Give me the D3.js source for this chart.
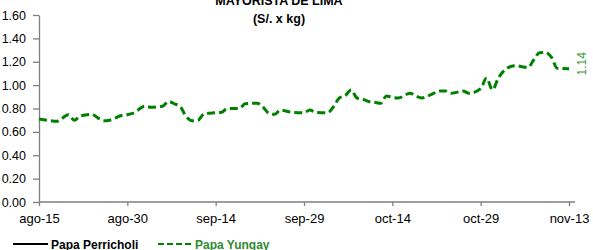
<!DOCTYPE html>
<html>
<head>
<meta charset="utf-8">
<script src="https://cdn.jsdelivr.net/npm/d3@7"></script>
<style>
  body { margin: 0; background: #fff; }
  svg { display: block; font-family: "Liberation Sans", Arial, sans-serif; }
</style>
</head>
<body>
<svg id="chart" width="593" height="250" viewBox="0 0 593 250"></svg>
<script>
// data
const titleLines = ["MAYORISTA DE LIMA", "(S/. x kg)"];
const seriesNames = ["Papa Perricholi", "Papa Yungay"];
const yTicks = [0, 0.2, 0.4, 0.6, 0.8, 1.0, 1.2, 1.4, 1.6];
const xTickLabels = ["ago-15", "ago-30", "sep-14", "sep-29", "oct-14", "oct-29", "nov-13"];
const xTickDates = ["2013-08-15", "2013-08-30", "2013-09-14", "2013-09-29", "2013-10-14", "2013-10-29", "2013-11-13"];
const perricholiDates = [];
const perricholiValues = [];
const yungayDates = [
  "2013-08-15","2013-08-17","2013-08-18","2013-08-20","2013-08-21","2013-08-22","2013-08-24","2013-08-25",
  "2013-08-26","2013-08-27","2013-08-29","2013-08-30","2013-08-31","2013-09-02","2013-09-03","2013-09-05",
  "2013-09-06","2013-09-07","2013-09-08","2013-09-09","2013-09-10","2013-09-11","2013-09-12","2013-09-13",
  "2013-09-15","2013-09-16","2013-09-18","2013-09-19","2013-09-21","2013-09-22","2013-09-23","2013-09-24",
  "2013-09-25","2013-09-27","2013-09-29","2013-09-30","2013-10-01","2013-10-03","2013-10-04","2013-10-05",
  "2013-10-06","2013-10-07","2013-10-08","2013-10-09","2013-10-10","2013-10-11","2013-10-12","2013-10-13",
  "2013-10-14","2013-10-15","2013-10-17","2013-10-18","2013-10-19","2013-10-21","2013-10-22","2013-10-23",
  "2013-10-24","2013-10-25","2013-10-26","2013-10-27","2013-10-29","2013-10-30","2013-10-31","2013-11-01",
  "2013-11-03","2013-11-04","2013-11-05","2013-11-06","2013-11-07","2013-11-08","2013-11-09","2013-11-10",
  "2013-11-11","2013-11-13"];
const yungayValues = [
  0.71,0.695,0.69,0.747,0.70,0.735,0.75,0.72,
  0.695,0.70,0.74,0.747,0.76,0.82,0.81,0.82,
  0.86,0.84,0.815,0.73,0.695,0.70,0.753,0.76,
  0.767,0.80,0.80,0.84,0.845,0.815,0.76,0.75,
  0.787,0.767,0.764,0.787,0.767,0.764,0.815,0.89,
  0.91,0.958,0.89,0.88,0.86,0.853,0.845,0.907,
  0.895,0.89,0.93,0.907,0.89,0.93,0.95,0.95,
  0.93,0.94,0.95,0.93,0.97,1.06,0.96,1.06,
  1.157,1.166,1.157,1.15,1.215,1.277,1.28,1.24,
  1.144,1.14];
const lastLabel = "1.14";

const svg = d3.select("#chart");
const parse = d3.timeParse("%Y-%m-%d");
const green = "#008000";
const axisColor = "#7f7f7f";

let x = d3.scaleTime()
    .domain([parse(xTickDates[0]), parse(xTickDates[xTickDates.length - 1])])
    .range([39, 569]);
// axis line runs a little past the last tick
let xEnd = 575;
let y = d3.scaleLinear().domain([0, 1.6]).range([202, 15]);

// title
svg.append("g").selectAll("text")
    .data(titleLines)
    .enter()
    .append("text")
    .attr("x", 279)
    .attr("y", function(d, i){ return 5 + i * 18 })
    .attr("text-anchor", "middle")
    .attr("font-size", "12.5px")
    .attr("font-weight", "bold")
    .attr("fill", "#000")
    .text(function(d){ return d });

// y axis
let yAxis = svg.append("g")
    .attr("transform", "translate(39,0)")
    .call(d3.axisLeft(y).tickValues(yTicks).tickSize(6).tickSizeOuter(0).tickFormat(d3.format(".2f")));
yAxis.select(".domain").attr("stroke", axisColor).attr("stroke-width", 1.3);
yAxis.selectAll(".tick line").attr("stroke", axisColor).attr("stroke-width", 1.3);
yAxis.selectAll(".tick text")
    .attr("font-family", "Liberation Sans, Arial, sans-serif")
    .attr("font-size", "12.5px")
    .attr("fill", "#000")
    .attr("x", -13);

// x axis
let xAxis = svg.append("g")
    .attr("transform", "translate(0,202)")
    .call(d3.axisBottom(x).tickValues(xTickDates.map(parse)).tickSize(4).tickSizeOuter(0)
        .tickFormat(function(d, i){ return xTickLabels[i] }));
xAxis.select(".domain").attr("d", `M39,0H${xEnd}`).attr("stroke", axisColor).attr("stroke-width", 1.3);
xAxis.selectAll(".tick line").attr("stroke", axisColor).attr("stroke-width", 1.3);
xAxis.selectAll(".tick text")
    .attr("font-family", "Liberation Sans, Arial, sans-serif")
    .attr("font-size", "13px")
    .attr("fill", "#000")
    .attr("y", 12);

// lines
let line = d3.line()
    .x(function(d){ return x(d.date) })
    .y(function(d){ return y(d.value) })
    .curve(d3.curveMonotoneX);

let perricholi = perricholiDates.map(function(d, i){ return {date: parse(d), value: perricholiValues[i]} });
let yungay = yungayDates.map(function(d, i){ return {date: parse(d), value: yungayValues[i]} });

svg.append("path")
    .datum(perricholi)
    .attr("fill", "none")
    .attr("stroke", "#000")
    .attr("stroke-width", 2)
    .attr("d", line);

svg.append("path")
    .datum(yungay)
    .attr("fill", "none")
    .attr("stroke", green)
    .attr("stroke-width", 3)
    .attr("stroke-dasharray", "8,4")
    .attr("d", line);

// end label, rotated
let last = yungay[yungay.length - 1];
svg.append("text")
    .attr("transform", `translate(${x(last.date) + 17},${y(last.value) - 5}) rotate(-90)`)
    .attr("text-anchor", "middle")
    .attr("font-size", "12px")
    .attr("fill", "#3a9a3a")
    .text(lastLabel);

// legend
let legend = svg.append("g").attr("transform", "translate(0,244)");
legend.append("line")
    .attr("x1", 13).attr("x2", 48).attr("y1", 0).attr("y2", 0)
    .attr("stroke", "#000").attr("stroke-width", 2);
legend.append("text")
    .attr("x", 51).attr("y", 5)
    .attr("font-size", "12px").attr("font-weight", "bold").attr("fill", "#000")
    .text(seriesNames[0]);
legend.append("line")
    .attr("x1", 158).attr("x2", 191).attr("y1", 0).attr("y2", 0)
    .attr("stroke", green).attr("stroke-width", 2).attr("stroke-dasharray", "6,3");
legend.append("text")
    .attr("x", 195).attr("y", 5)
    .attr("font-size", "12px").attr("font-weight", "bold").attr("fill", "#2e8b2e")
    .text(seriesNames[1]);
</script>
</body>
</html>
